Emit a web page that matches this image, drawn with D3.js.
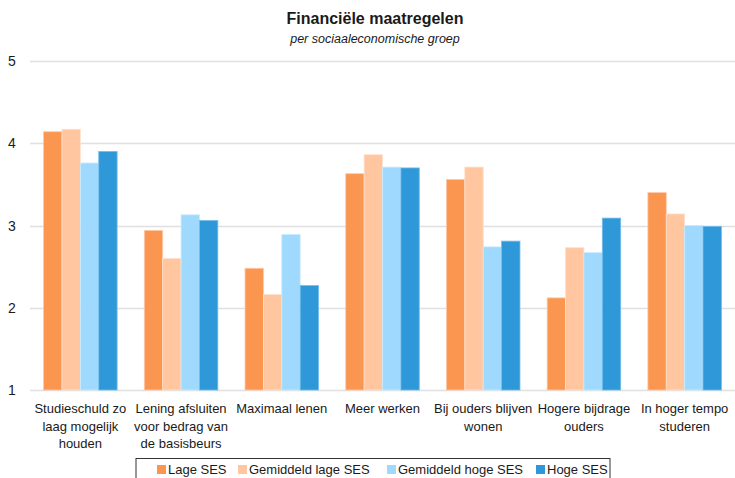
<html>
  <head>
    <script src="https://d3js.org/d3.v7.min.js" charset="utf-8"></script>
    <style>
      body { margin: 0; background: #fff; }
      text { font-family: "Liberation Sans", Arial, sans-serif; fill: #1a1a1a; }
    </style>
  </head>
  <body>
    <script>
      var w = 735;
      var h = 478;

      // categories (label lines as wrapped in the chart)
      var categories = [
        ["Studieschuld zo", "laag mogelijk", "houden"],
        ["Lening afsluiten", "voor bedrag van", "de basisbeurs"],
        ["Maximaal lenen"],
        ["Meer werken"],
        ["Bij ouders blijven", "wonen"],
        ["Hogere bijdrage", "ouders"],
        ["In hoger tempo", "studeren"]
      ];
      var seriesNames = ["Lage SES", "Gemiddeld lage SES", "Gemiddeld hoge SES", "Hoge SES"];
      var lageSES        = [4.14, 2.94, 2.48, 3.63, 3.56, 2.12, 3.40];
      var gemLageSES     = [4.17, 2.60, 2.16, 3.86, 3.71, 2.73, 3.14];
      var gemHogeSES     = [3.76, 3.13, 2.89, 3.71, 2.74, 2.67, 3.00];
      var hogeSES        = [3.90, 3.06, 2.27, 3.70, 2.81, 3.09, 2.99];
      var yTicks = [1, 2, 3, 4, 5];
      var colors = ["#fa9650", "#ffc6a0", "#9fd9fd", "#2e98d8"];
      var strokes = ["#ffc8a8", "#ffe0cc", "#c8ecff", "#72bdec"];

      var seriesValues = [lageSES, gemLageSES, gemHogeSES, hogeSES];
      var rows = categories.map(function(c, i){
        return {cat: i, vals: seriesValues.map(function(s){ return s[i]; })};
      });

      var svg = d3.select("body")
        .append("svg")
        .attr("width", w)
        .attr("height", h);

      var x0 = d3.scaleBand()
        .domain(d3.range(categories.length))
        .range([30, 735])
        .paddingInner(0.27)
        .paddingOuter(0.135);
      var x1 = d3.scaleBand()
        .domain(d3.range(seriesNames.length))
        .range([0, x0.bandwidth()]);
      var y = d3.scaleLinear().domain([1, 5]).range([390, 61]);

      // gridlines
      svg.selectAll(".grid")
        .data(yTicks)
        .enter()
        .append("line")
        .attr("class", "grid")
        .attr("x1", 30)
        .attr("x2", 735)
        .attr("y1", function(d){ return Math.round(y(d)) + 0.5; })
        .attr("y2", function(d){ return Math.round(y(d)) + 0.5; })
        .attr("stroke", "#e0e0e0")
        .attr("stroke-width", 1.5);

      // y labels
      svg.selectAll(".ylab")
        .data(yTicks)
        .enter()
        .append("text")
        .attr("class", "ylab")
        .attr("x", 12)
        .attr("y", function(d){ return y(d) + 5; })
        .attr("text-anchor", "middle")
        .attr("font-size", 14)
        .text(function(d){ return d; });

      // bars
      var groups = svg.selectAll(".grp")
        .data(rows)
        .enter()
        .append("g")
        .attr("class", "grp")
        .attr("transform", function(d){ return "translate(" + x0(d.cat) + ",0)"; });

      groups.selectAll("rect")
        .data(function(d){ return d.vals.map(function(v, j){ return {v: v, s: j}; }); })
        .enter()
        .append("rect")
        .attr("x", function(d){ return x1(d.s); })
        .attr("width", x1.bandwidth())
        .attr("y", function(d){ return y(d.v); })
        .attr("height", function(d){ return y(1) - y(d.v); })
        .attr("fill", function(d){ return colors[d.s]; })
        .attr("stroke", function(d){ return strokes[d.s]; })
        .attr("stroke-width", 0.8);

      // category labels
      var catLabels = svg.selectAll(".catlab")
        .data(categories)
        .enter()
        .append("text")
        .attr("class", "catlab")
        .attr("text-anchor", "middle")
        .attr("font-size", 13)
        .attr("x", function(d, i){ return x0(i) + x0.bandwidth() / 2; })
        .attr("y", 413);
      catLabels.selectAll("tspan")
        .data(function(d){ return d; })
        .enter()
        .append("tspan")
        .attr("x", function(){ return d3.select(this.parentNode).attr("x"); })
        .attr("dy", function(d, i){ return i === 0 ? 0 : 17.5; })
        .text(function(d){ return d; });

      // title
      svg.append("text")
        .attr("x", 375)
        .attr("y", 24)
        .attr("text-anchor", "middle")
        .attr("font-size", 16)
        .attr("font-weight", "bold")
        .text("Financiële maatregelen");
      svg.append("text")
        .attr("x", 375)
        .attr("y", 43)
        .attr("text-anchor", "middle")
        .attr("font-size", 12.5)
        .attr("font-style", "italic")
        .text("per sociaaleconomische groep");

      // legend
      svg.append("rect")
        .attr("x", 136)
        .attr("y", 458.5)
        .attr("width", 474)
        .attr("height", 30)
        .attr("fill", "none")
        .attr("stroke", "#333")
        .attr("stroke-width", 1);

      var legendX = [157, 238, 387, 536];
      var leg = svg.selectAll(".leg")
        .data(seriesNames)
        .enter()
        .append("g")
        .attr("class", "leg")
        .attr("transform", function(d, i){ return "translate(" + legendX[i] + ",464)"; });
      leg.append("rect")
        .attr("width", 9)
        .attr("height", 9)
        .attr("y", 1)
        .attr("fill", function(d, i){ return colors[i]; });
      leg.append("text")
        .attr("x", 11)
        .attr("y", 10)
        .attr("font-size", 13)
        .text(function(d){ return d; });
    </script>
  </body>
</html>
